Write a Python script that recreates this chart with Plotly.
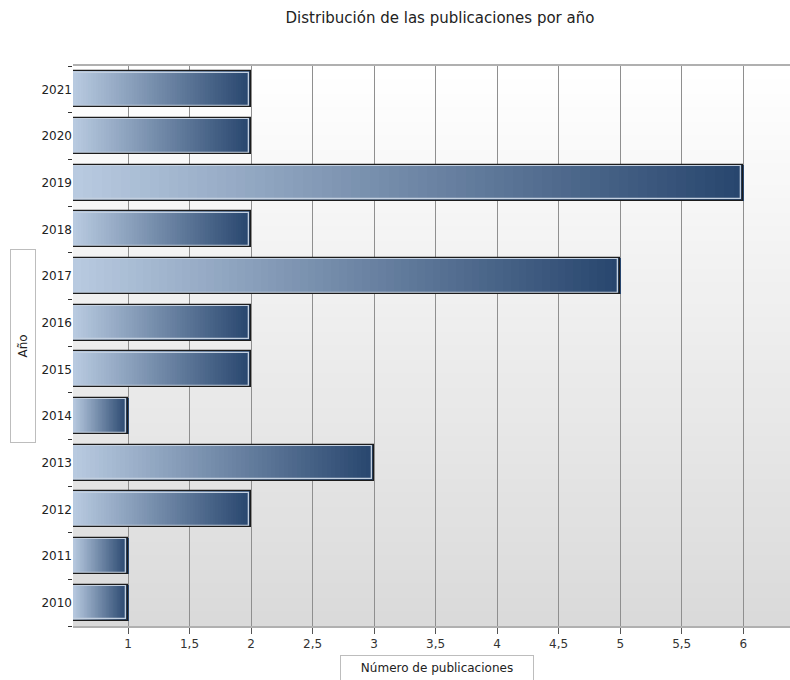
import plotly.graph_objects as go

years = ["2010", "2011", "2012", "2013", "2014", "2015", "2016", "2017", "2018", "2019", "2020", "2021"]
counts = [1, 1, 2, 3, 1, 2, 2, 5, 2, 6, 2, 2]
x_tick_vals = [1, 1.5, 2, 2.5, 3, 3.5, 4, 4.5, 5, 5.5, 6]
x_tick_text = ["1", "1,5", "2", "2,5", "3", "3,5", "4", "4,5", "5", "5,5", "6"]

X_MIN, X_MAX = 0.553, 6.38
BAR_W = 0.77
N_SEG = 70
C_LIGHT = (184, 202, 224)
C_DARK = (40, 70, 110)


def lerp(a, b, t):
    return tuple(round(a[i] + (b[i] - a[i]) * t) for i in range(3))


fig = go.Figure()

# gradient bar body built from overlaid segments
for k in range(N_SEG):
    t = k / (N_SEG - 1)
    c = lerp(C_LIGHT, C_DARK, t)
    base = [X_MIN + (v - X_MIN) * k / N_SEG for v in counts]
    length = [(v - X_MIN) / N_SEG * 1.05 for v in counts]
    fig.add_trace(go.Bar(
        y=years, x=length, base=base, orientation="h", width=BAR_W,
        marker=dict(color=f"rgb{c}", line=dict(width=0)),
        showlegend=False, hoverinfo="skip",
    ))

# inner light edge
fig.add_trace(go.Bar(
    y=years, x=[v - X_MIN + 0.1 - 0.018 for v in counts], base=[X_MIN - 0.1] * len(counts),
    orientation="h", width=BAR_W - 0.05,
    marker=dict(color="rgba(0,0,0,0)", line=dict(color="#c3d0e0", width=1.3)),
    showlegend=False, hoverinfo="skip",
))
# dark outline
fig.add_trace(go.Bar(
    y=years, x=[v - X_MIN + 0.1 for v in counts], base=[X_MIN - 0.1] * len(counts),
    orientation="h", width=BAR_W,
    marker=dict(color="rgba(0,0,0,0)", line=dict(color="#1c1c1c", width=1.3)),
    showlegend=False, hovertemplate="%{y}: %{customdata}<extra></extra>",
    customdata=counts,
))

# background vertical gradient in plot area
shapes = []
N_BG = 80
for i in range(N_BG):
    t = i / (N_BG - 1)
    g = round(255 - (255 - 218) * t)
    shapes.append(dict(
        type="rect", xref="paper", yref="paper", x0=0, x1=1,
        y0=1 - (i + 1) / N_BG, y1=1 - i / N_BG + 0.001,
        fillcolor=f"rgb({g},{g},{g})", line=dict(width=0), layer="below",
    ))

fig.update_layout(
    width=790, height=680,
    margin=dict(l=73, r=0, t=66, b=54),
    paper_bgcolor="white", plot_bgcolor="white",
    barmode="overlay", bargap=0,
    shapes=shapes,
    font=dict(family="DejaVu Sans, Verdana, sans-serif", color="#222"),
    title=dict(
        text="Distribución de las publicaciones por año",
        x=440 / 790, xanchor="center", xref="container",
        y=1 - 18 / 680, yanchor="middle", yref="container",
        font=dict(size=15, color="#222"),
    ),
    xaxis=dict(
        range=[X_MIN, X_MAX], tickvals=x_tick_vals, ticktext=x_tick_text,
        showgrid=True, gridcolor="#8f8f8f", gridwidth=1,
        ticks="outside", ticklen=6, tickcolor="#555", tickwidth=1,
        showline=True, linecolor="#b0b0b0", linewidth=2, mirror=True,
        tickfont=dict(size=12, color="#333"), zeroline=False, fixedrange=True,
    ),
    yaxis=dict(
        type="category", categoryorder="array", categoryarray=years,
        range=[-0.5, len(years) - 0.5],
        tickson="boundaries", ticks="outside", ticklen=4, tickcolor="#333",
        showgrid=False, showline=False, zeroline=False,
        tickfont=dict(size=12, color="#222"), fixedrange=True,
    ),
    annotations=[
        dict(
            text="Año", textangle=-90, xref="paper", yref="paper",
            x=(23 - 73) / 717, y=0.5, xanchor="center", yanchor="middle",
            showarrow=False, width=190, height=22,
            bordercolor="#bdbdbd", borderwidth=1, bgcolor="white",
            font=dict(size=12, color="#222"),
        ),
        dict(
            text="Número de publicaciones", xref="paper", yref="paper",
            x=(436.5 - 73) / 717, y=(626 - 668) / 560,
            xanchor="center", yanchor="middle",
            showarrow=False, width=190, height=22,
            bordercolor="#bdbdbd", borderwidth=1, bgcolor="white",
            font=dict(size=12, color="#222"),
        ),
    ],
)

fig.write_html("out.html")
